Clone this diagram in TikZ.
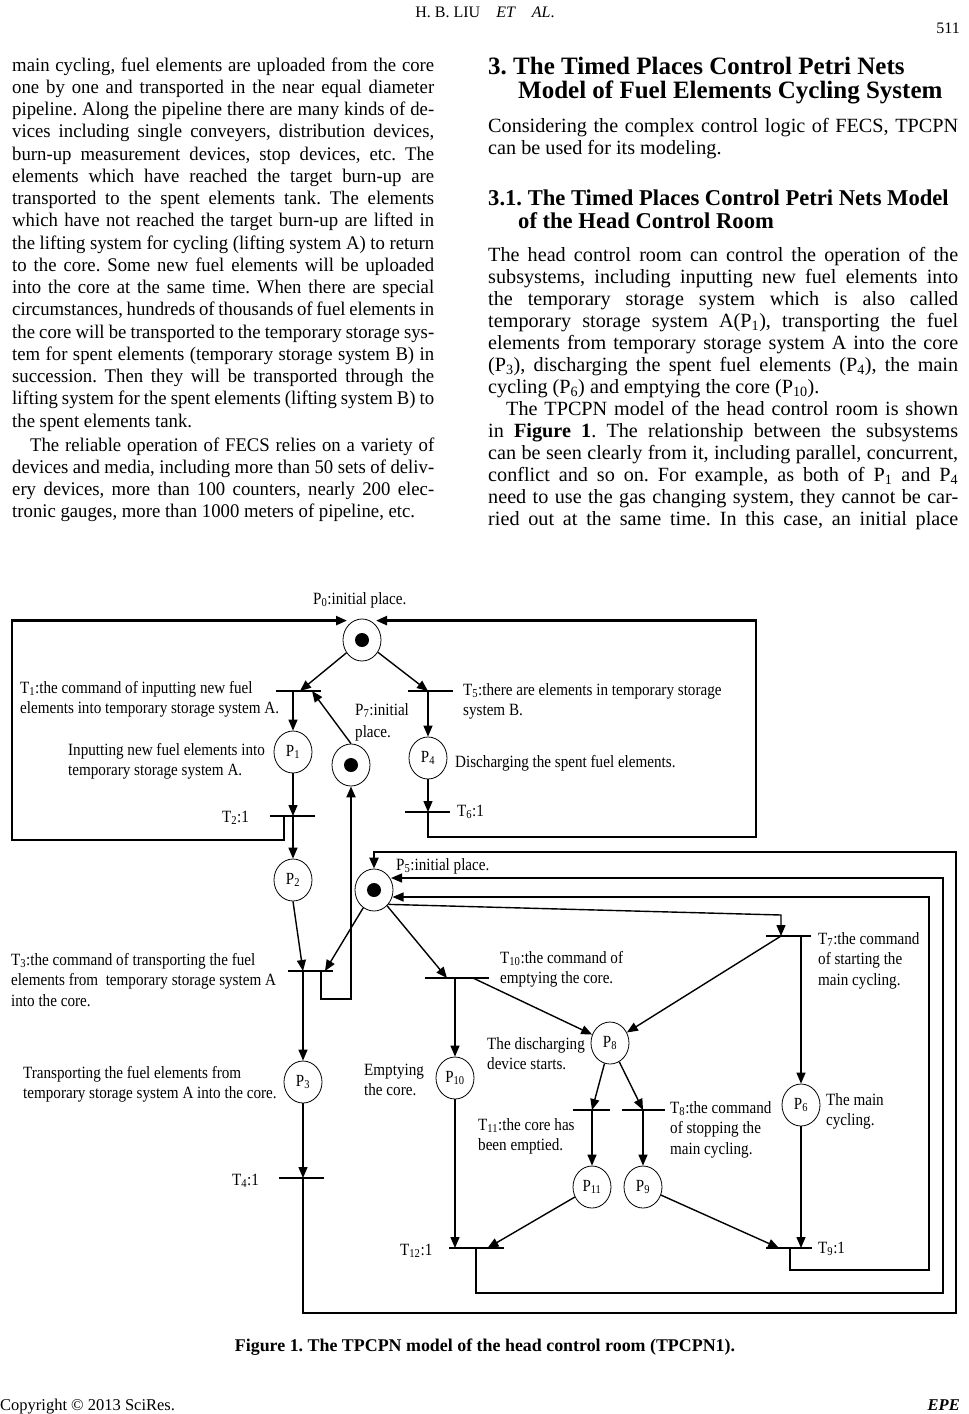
\documentclass[tikz,border=0pt]{standalone}
\usepackage{fontspec}
\setmainfont{Liberation Serif}
\newfontfamily\lfont{Liberation Serif}[FakeStretch=0.97]
\newfontfamily\dfont{Liberation Serif}[FakeStretch=0.88]
\usetikzlibrary{arrows.meta,calc,shapes.geometric}
\newcommand\sbs[1]{\textsubscript{#1}}
\newcommand\natsp{\spaceskip=0pt\xspaceskip=0pt\relax}
\newcommand\JL[1]{\hbox to 422pt{\natsp #1}}
\newcommand\JR[1]{\hbox to 470pt{\natsp #1}}
\newcommand\LL[1]{\hbox{\natsp #1}}
\frenchspacing
\begin{document}
\frenchspacing
\begin{tikzpicture}[x=1pt,y=-1pt,
  place/.style={draw,ellipse,line width=0.8pt,minimum width=38pt,minimum height=42pt,inner sep=0pt,font=\dfont\fontsize{17}{18}\selectfont},
  tok/.style={circle,fill=black,minimum size=14pt,inner sep=0pt},
  trans/.style={rectangle,fill=black,minimum width=45pt,minimum height=2.6pt,inner sep=0pt},
  arc/.style={line width=1.4pt,-{Triangle[length=11pt,width=9pt]}},
  heavy/.style={line width=2.4pt},
  lbl/.style={anchor=base west,inner sep=0pt,text width=330pt,font=\dfont\fontsize{17.2}{20.5}\selectfont,execute at begin node=\natsp},
  body/.style={anchor=base west,inner sep=0pt,font=\lfont\fontsize{19.3}{22.25}\selectfont},
  rbody/.style={anchor=base west,inner sep=0pt,font=\fontsize{20.2}{22.08}\selectfont},
  head/.style={anchor=base west,inner sep=0pt,text width=480pt,execute at begin node=\natsp},
]
\fill[white] (0,0) rectangle (969,1414);
\useasboundingbox (0,0) rectangle (969,1414);

% ---------- page text ----------
\node[anchor=base,inner sep=0pt,font=\fontsize{16}{18}\selectfont] (hdr) at (485,17) {H. B. LIU\quad\textit{ET}\quad\textit{AL}.};
\node[anchor=base east,inner sep=0pt,font=\fontsize{16}{18}\selectfont] (pg) at (960,33) {511};

\node[body,text width=422pt] (lp1) at (12,71) {%
\JL{main cycling, fuel elements are uploaded from the core}
\JL{one by one and transported in the near equal diameter}
\JL{pipeline. Along the pipeline there are many kinds of de-}
\JL{vices including single conveyers, distribution devices,}
\JL{burn-up measurement devices, stop devices, etc. The}
\JL{elements which have reached the target burn-up are}
\JL{transported to the spent elements tank. The elements}
\JL{which have not reached the target burn-up are lifted in}
\JL{the lifting system for cycling (lifting system A) to return}
\JL{to the core. Some new fuel elements will be uploaded}
\JL{into the core at the same time. When there are special}
\JL{circumstances, hundreds of thousands of fuel elements in}
\JL{the core will be transported to the temporary storage sys-}
\JL{tem for spent elements (temporary storage system B) in}
\JL{succession. Then they will be transported through the}
\JL{lifting system for the spent elements (lifting system B) to}
\LL{the spent elements tank.}};

\node[body,text width=422pt] (lp2) at (12,451) {%
\JL{\hskip18pt The reliable operation of FECS relies on a variety of}
\JL{devices and media, including more than 50 sets of deliv-}
\JL{ery devices, more than 100 counters, nearly 200 elec-}
\LL{tronic gauges, more than 1000 meters of pipeline, etc.}};

\node[head,font=\bfseries\fontsize{25}{24}\selectfont] (rh1) at (488,74) {%
3. The Timed Places Control Petri Nets\\
\hspace*{30pt}Model of Fuel Elements Cycling System};

\node[rbody,text width=470pt] (rp0) at (488,132) {%
\JR{Considering the complex control logic of FECS, TPCPN}
\LL{can be used for its modeling.}};

\node[head,font=\bfseries\fontsize{22.6}{23}\selectfont] (rh2) at (488,205) {%
3.1. The Timed Places Control Petri Nets Model\\
\hspace*{30pt}of the Head Control Room};

\node[rbody,text width=470pt] (rp1) at (488,261) {%
\JR{The head control room can control the operation of the}
\JR{subsystems, including inputting new fuel elements into}
\JR{the temporary storage system which is also called}
\JR{temporary storage system A(P\sbs{1}), transporting the fuel}
\JR{elements from temporary storage system A into the core}
\JR{(P\sbs{3}), discharging the spent fuel elements (P\sbs{4}), the main}
\LL{cycling (P\sbs{6}) and emptying the core (P\sbs{10}).}
\JR{\hskip18pt The TPCPN model of the head control room is shown}
\JR{in \textbf{Figure 1}. The relationship between the subsystems}
\JR{can be seen clearly from it, including parallel, concurrent,}
\JR{conflict and so on. For example, as both of P\sbs{1} and P\sbs{4}}
\JR{need to use the gas changing system, they cannot be car-}
\JR{ried out at the same time. In this case, an initial place}};

\node[anchor=base,inner sep=0pt,font=\bfseries\fontsize{17.9}{20}\selectfont] (cap) at (485,1351) {Figure 1. The TPCPN model of the head control room (TPCPN1).};
\node[anchor=base west,inner sep=0pt,font=\fontsize{16.5}{18}\selectfont] (foot) at (0,1410) {Copyright \textcopyright\ 2013 SciRes.};
\node[anchor=base east,inner sep=0pt,font=\bfseries\itshape\fontsize{16.5}{18}\selectfont] (epe) at (960,1410) {EPE};

% ---------- places ----------
\node[place] (P0) at (362,640) {};
\node[tok] (k0) at (P0) {};
\node[place] (P1) at (293,752) {P\sbs{1}};
\node[place] (P7) at (351,765) {};
\node[tok] (k7) at (P7) {};
\node[place] (P4) at (428,758) {P\sbs{4}};
\node[place] (P2) at (293,880) {P\sbs{2}};
\node[place] (P5) at (374,890) {};
\node[tok] (k5) at (P5) {};
\node[place] (P3) at (303,1082) {P\sbs{3}};
\node[place] (P10) at (455,1078) {P\sbs{10}};
\node[place] (P8) at (610,1043) {P\sbs{8}};
\node[place] (P6) at (801,1105) {P\sbs{6}};
\node[place] (P11) at (592,1187) {P\sbs{11}};
\node[place] (P9) at (643,1187) {P\sbs{9}};

% ---------- transitions ----------
\node[trans] (T1) at (298.5,691) {};
\node[trans] (T2) at (292.5,816) {};
\node[trans] (T5) at (430,691) {};
\node[trans] (T6) at (427.5,812) {};
\node[trans] (T3) at (310.5,971) {};
\node[trans] (T4) at (301,1178) {};
\node[trans,minimum width=64pt] (T10) at (457,978) {};
\node[trans] (T7) at (788,936) {};
\node[trans,minimum width=37pt] (T11) at (591.5,1110) {};
\node[trans,minimum width=43pt] (T8) at (643.5,1110) {};
\node[trans,minimum width=55pt] (T12) at (476.5,1248) {};
\node[trans,minimum width=46pt] (T9) at (789,1248) {};

% ---------- arcs ----------
\draw[arc] (P0) -- ($(T1.center)+(1.5,0)$);
\draw[arc] (P0) -- ($(T5.center)+(-2,0)$);
\draw[arc] ($(T1.center)+(-5.5,0)$) -- (P1.north);
\draw[arc] (P7.north) -- ($(T1.center)+(13.5,0)$);
\draw[arc] (P1.south) -- ($(T2.center)+(0.5,0)$);
\draw[arc] ($(T2.center)+(0.5,0)$) -- (P2.north);
\draw[arc,heavy] ($(T2.center)+(-8.5,0)$) -- ++(0,24) -- ++(-272,0) |- ($(P0.north)+(-15,2)$);
\draw[arc] ($(T5.center)+(-2,0)$) -- (P4.north);
\draw[arc] (P4.south) -- ($(T6.center)+(0.5,0)$);
\draw[arc,heavy] ($(T6.center)+(0.5,0)$) -- ++(0,25) -- ++(328,0) |- ($(P0.north)+(14,2)$);
\draw[arc] (P2.south) -- ($(T3.center)+(-7.5,0)$);
\draw[arc] (P5) -- ($(T3.center)+(14.5,0)$);
\draw[arc] ($(T3.center)+(-7.5,0)$) -- (P3.north);
\draw[arc,line width=2pt] ($(T3.center)+(10.5,0)$) -- ++(0,28) -| (P7.south);
\draw[arc] (P3.south) -- ($(T4.center)+(2,0)$);
\draw[arc,heavy] ($(T4.center)+(2,0)$) -- ++(0,135) -- ++(653,0) -- ++(0,-461) -| (P5.north);
\draw[arc] (P5) -- ($(T10.center)+(-10,0)$);
\draw[arc] ($(T10.center)+(-2,0)$) -- (P10.north);
\draw[arc] ($(T10.center)+(16,0)$) -- (P8);
\draw[arc] (P5.-45) -- ($(T7.center)+(-7,-21)$) -- ($(T7.center)+(-7,0)$);
\draw[arc] ($(T7.center)+(-7,0)$) -- (P8);
\draw[arc] ($(T7.center)+(13,0)$) -- (P6.north);
\draw[arc] (P8) -- ($(T11.center)+(0.5,0)$);
\draw[arc] (P8) -- ($(T8.center)+(-0.5,0)$);
\draw[arc] ($(T11.center)+(0.5,0)$) -- (P11.north);
\draw[arc] ($(T8.center)+(-0.5,0)$) -- (P9.north);
\draw[arc] (P11) -- ($(T12.center)+(11,0)$);
\draw[arc] (P10.south) -- ($(T12.center)+(-21.5,0)$);
\draw[arc] (P9) -- ($(T9.center)+(-10,0)$);
\draw[arc] (P6.south) -- ($(T9.center)+(12,0)$);
\draw[arc,line width=1.2pt] ($(T12.center)+(-0.5,0)$) -- ++(0,45) -- ++(467,0) |- ($(P5.center)+(17,-12)$);
\draw[arc,line width=1.2pt] ($(T9.center)+(1,0)$) -- ++(0,22) -- ++(139,0) |- ($(P5.center)+(18.5,7)$);

% ---------- labels ----------
\node[lbl] (L0) at (313,604) {P\sbs{0}:initial place.};
\node[lbl] (L1) at (20,693) {T\sbs{1}:the command of inputting new fuel\\elements into temporary storage system A.};
\node[lbl] (L1b) at (68,755) {Inputting new fuel elements into\\temporary storage system A.};
\node[lbl] (L7) at (355,715) {P\sbs{7}:initial\\[1.5pt]place.};
\node[lbl] (L5) at (463,695) {T\sbs{5}:there are elements in temporary storage\\system B.};
\node[lbl] (L4) at (455,767) {Discharging the spent fuel elements.};
\node[lbl] (L6) at (457,816) {T\sbs{6}:1};
\node[lbl] (L2) at (222,822) {T\sbs{2}:1};
\node[lbl] (L5b) at (396,870) {P\sbs{5}:initial place.};
\node[lbl] (L3) at (11,965) {T\sbs{3}:the command of transporting the fuel\\elements from\ \ temporary storage system A\\into the core.};
\node[lbl] (L3b) at (23,1078) {Transporting the fuel elements from\\temporary storage system A into the core.};
\node[lbl] (L10b) at (364,1075) {Emptying\\the core.};
\node[lbl] (L10) at (500,963) {T\sbs{10}:the command of\\emptying the core.};
\node[lbl] (L7b) at (818,944) {T\sbs{7}:the command\\of starting the\\main cycling.};
\node[lbl] (L8b) at (487,1049) {The discharging\\device starts.};
\node[lbl] (L11) at (478,1130) {T\sbs{11}:the core has\\been emptied.};
\node[lbl] (L8) at (670,1113) {T\sbs{8}:the command\\of stopping the\\main cycling.};
\node[lbl] (L6b) at (826,1105) {The main\\cycling.};
\node[lbl] (L4b) at (232,1185) {T\sbs{4}:1};
\node[lbl] (L12) at (400,1255) {T\sbs{12}:1};
\node[lbl] (L9) at (818,1253) {T\sbs{9}:1};
\end{tikzpicture}
\end{document}
